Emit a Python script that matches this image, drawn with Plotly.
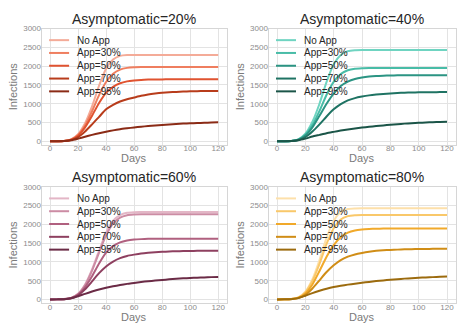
import plotly.graph_objects as go

W, H = 463, 331

days = list(range(0, 121, 5))
series_names = ['No App', 'App=30%', 'App=50%', 'App=70%', 'App=95%']
titles = ['Asymptomatic=20%', 'Asymptomatic=40%', 'Asymptomatic=60%', 'Asymptomatic=80%']

# Asymptomatic = 20%
a20_noapp = [0, 2, 10, 50, 190, 480, 930, 1480, 1930, 2180, 2275, 2298, 2300, 2300, 2300, 2300, 2300, 2300, 2300, 2300, 2300, 2300, 2300, 2300, 2300]
a20_app30 = [0, 2, 10, 45, 170, 420, 800, 1230, 1580, 1800, 1910, 1955, 1972, 1978, 1980, 1980, 1980, 1980, 1980, 1980, 1980, 1980, 1980, 1980, 1980]
a20_app50 = [0, 2, 9, 40, 150, 370, 680, 1020, 1290, 1450, 1545, 1595, 1620, 1635, 1642, 1646, 1648, 1649, 1650, 1650, 1650, 1650, 1650, 1650, 1650]
a20_app70 = [0, 2, 8, 30, 110, 260, 450, 650, 850, 970, 1060, 1120, 1165, 1210, 1245, 1270, 1290, 1303, 1315, 1323, 1330, 1334, 1337, 1339, 1340]
a20_app95 = [0, 2, 6, 25, 70, 120, 170, 215, 255, 290, 320, 345, 368, 388, 405, 421, 435, 448, 460, 470, 478, 486, 493, 499, 505]

# Asymptomatic = 40%
a40_noapp = [0, 2, 10, 50, 200, 520, 1000, 1580, 2050, 2300, 2400, 2425, 2430, 2430, 2430, 2430, 2430, 2430, 2430, 2430, 2430, 2430, 2430, 2430, 2430]
a40_app30 = [0, 2, 10, 45, 175, 430, 810, 1240, 1580, 1790, 1890, 1930, 1943, 1948, 1950, 1950, 1950, 1950, 1950, 1950, 1950, 1950, 1950, 1950, 1950]
a40_app50 = [0, 2, 9, 40, 150, 370, 680, 1000, 1270, 1470, 1590, 1660, 1700, 1725, 1740, 1748, 1753, 1756, 1758, 1759, 1760, 1760, 1760, 1760, 1760]
a40_app70 = [0, 2, 8, 30, 110, 260, 450, 660, 850, 990, 1090, 1150, 1190, 1222, 1245, 1262, 1275, 1285, 1293, 1298, 1303, 1306, 1308, 1309, 1310]
a40_app95 = [0, 2, 6, 25, 70, 125, 170, 215, 250, 285, 315, 340, 365, 386, 405, 423, 440, 456, 470, 482, 492, 501, 508, 514, 520]

# Asymptomatic = 60%
a60_noapp = [0, 2, 9, 40, 150, 400, 800, 1300, 1780, 2100, 2250, 2310, 2325, 2328, 2330, 2330, 2330, 2330, 2330, 2330, 2330, 2330, 2330, 2330, 2330]
a60_app30 = [0, 2, 9, 40, 145, 380, 770, 1250, 1710, 2020, 2180, 2245, 2262, 2268, 2270, 2270, 2270, 2270, 2270, 2270, 2270, 2270, 2270, 2270, 2270]
a60_app50 = [0, 2, 8, 35, 130, 330, 620, 960, 1250, 1420, 1520, 1570, 1595, 1608, 1615, 1618, 1620, 1620, 1620, 1620, 1620, 1620, 1620, 1620, 1620]
a60_app70 = [0, 2, 8, 30, 110, 270, 480, 700, 880, 1010, 1100, 1160, 1195, 1225, 1245, 1260, 1270, 1278, 1285, 1290, 1293, 1296, 1298, 1299, 1300]
a60_app95 = [0, 2, 7, 30, 85, 150, 210, 265, 310, 350, 385, 415, 440, 465, 485, 503, 520, 536, 550, 562, 572, 580, 588, 595, 600]

# Asymptomatic = 80%
a80_noapp = [0, 3, 12, 55, 210, 540, 1050, 1650, 2100, 2330, 2410, 2425, 2430, 2430, 2430, 2430, 2430, 2430, 2430, 2430, 2430, 2430, 2430, 2430, 2430]
a80_app30 = [0, 3, 11, 50, 190, 490, 950, 1480, 1900, 2130, 2220, 2245, 2250, 2250, 2250, 2250, 2250, 2250, 2250, 2250, 2250, 2250, 2250, 2250, 2250]
a80_app50 = [0, 3, 10, 45, 160, 400, 760, 1140, 1450, 1660, 1780, 1840, 1865, 1878, 1885, 1888, 1890, 1890, 1890, 1890, 1890, 1890, 1890, 1890, 1890]
a80_app70 = [0, 2, 9, 35, 120, 290, 510, 730, 910, 1050, 1140, 1200, 1240, 1272, 1295, 1310, 1320, 1328, 1335, 1340, 1343, 1346, 1348, 1349, 1350]
a80_app95 = [0, 3, 8, 35, 100, 170, 230, 285, 330, 365, 395, 420, 445, 468, 490, 508, 525, 541, 555, 567, 578, 587, 595, 603, 610]

panels = [
    [a20_noapp, a20_app30, a20_app50, a20_app70, a20_app95],
    [a40_noapp, a40_app30, a40_app50, a40_app70, a40_app95],
    [a60_noapp, a60_app30, a60_app50, a60_app70, a60_app95],
    [a80_noapp, a80_app30, a80_app50, a80_app70, a80_app95],
]

palettes = [
    ['#f4ab98', '#ef7e5f', '#e05330', '#b83c1b', '#8b2b16'],
    ['#6fd4c1', '#48bca7', '#2b9483', '#1f7363', '#1b5548'],
    ['#e3b6c6', '#cc8ca4', '#b0607f', '#8e4060', '#6b2b46'],
    ['#fde0aa', '#f9c86a', '#f1a92a', '#d08d16', '#9c6b0e'],
]

# plot area boxes in pixels: left, right, top, bottom
boxes = [
    (41.6, 226.6, 25.0, 143.0),
    (268.5, 455.5, 25.0, 143.0),
    (41.6, 226.6, 185.7, 303.6),
    (268.5, 455.5, 185.7, 303.6),
]

FONT = 'Liberation Sans, Arial, sans-serif'


def px_x(v):
    return v / W


def px_y(v):
    return 1 - v / H


fig = go.Figure()
shapes = []
annotations = []

for k, (series, colors, box, title) in enumerate(zip(panels, palettes, boxes, titles)):
    n = '' if k == 0 else str(k + 1)
    left, right, top, bottom = box
    for name, vals, col in zip(series_names, series, colors):
        fig.add_trace(go.Scatter(
            x=days, y=vals, mode='lines', name=name,
            line=dict(color=col, width=2, shape='spline', smoothing=0.6),
            xaxis='x' + n, yaxis='y' + n, showlegend=False,
        ))

    fig.update_layout(**{
        'xaxis' + n: dict(
            domain=[px_x(left), px_x(right)], anchor='y' + n,
            range=[-6, 126], tickvals=[0, 20, 40, 60, 80, 100, 120],
            showgrid=True, gridcolor='#e3e3e3', gridwidth=1, zeroline=False,
            showline=True, linecolor='#d6d6d6', linewidth=1, mirror=True,
            ticks='', ticklabelstandoff=-4,
            tickfont=dict(size=8, color='#8c8c8c', family=FONT),
        ),
        'yaxis' + n: dict(
            domain=[px_y(bottom), px_y(top)], anchor='x' + n,
            range=[-95, 3000], tickvals=[0, 500, 1000, 1500, 2000, 2500, 3000],
            showgrid=True, gridcolor='#e3e3e3', gridwidth=1, zeroline=False,
            showline=True, linecolor='#d6d6d6', linewidth=1, mirror=True,
            ticks='', ticklabelstandoff=-2,
            tickfont=dict(size=8, color='#8c8c8c', family=FONT),
        ),
    })

    cx = (left + right) / 2
    annotations.append(dict(
        text=title, x=px_x(cx), y=px_y(top - 10), xref='paper', yref='paper',
        xanchor='center', yanchor='middle', showarrow=False,
        font=dict(size=14, color='#262626', family=FONT),
    ))
    annotations.append(dict(
        text='Days', x=px_x(cx), y=px_y(bottom + 13.7), xref='paper', yref='paper',
        xanchor='center', yanchor='middle', showarrow=False,
        font=dict(size=11, color='#7a7a7a', family=FONT),
    ))
    annotations.append(dict(
        text='Infections', x=px_x(left - 29), y=px_y((top + bottom) / 2),
        xref='paper', yref='paper', textangle=-90,
        xanchor='center', yanchor='middle', showarrow=False,
        font=dict(size=11, color='#7a7a7a', family=FONT),
    ))

    # legend, upper left inside the plot area
    for i, (name, col) in enumerate(zip(series_names, colors)):
        ly = top + 11.7 + 13 * i
        shapes.append(dict(
            type='line', xref='paper', yref='paper',
            x0=px_x(left + 7.5), x1=px_x(left + 27.5), y0=px_y(ly), y1=px_y(ly),
            line=dict(color=col, width=2),
        ))
        annotations.append(dict(
            text=name, x=px_x(left + 33), y=px_y(ly), xref='paper', yref='paper',
            xanchor='left', yanchor='middle', showarrow=False,
            font=dict(size=10, color='#262626', family=FONT),
        ))

fig.update_layout(
    width=W, height=H,
    margin=dict(l=0, r=0, t=0, b=0),
    paper_bgcolor='white', plot_bgcolor='white',
    font=dict(family=FONT),
    shapes=shapes, annotations=annotations,
)

fig.write_html("out.html", config={'displayModeBar': False},
               post_script="document.body.style.margin = '0';")
